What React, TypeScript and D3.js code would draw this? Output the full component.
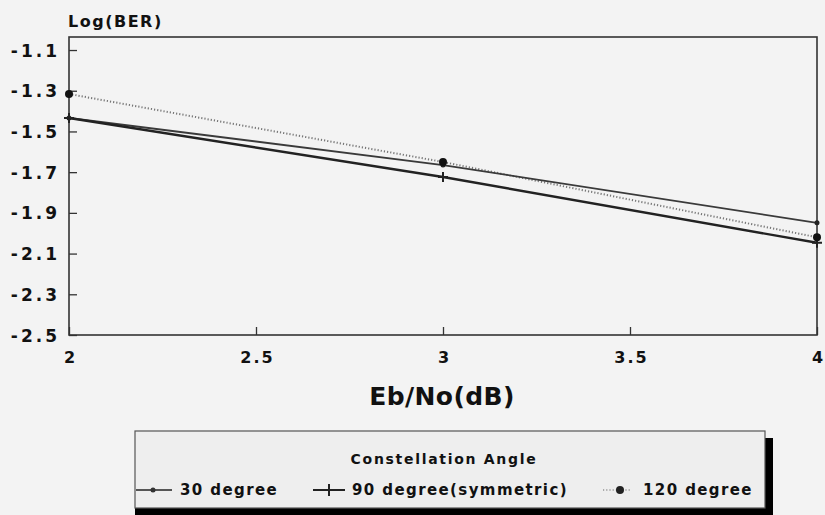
import React, { useEffect, useRef } from "react";
import * as d3 from "d3";

const ebno = [2, 3, 4];
const deg30 = [-1.434, -1.665, -1.949];
const deg90 = [-1.434, -1.724, -2.047];
const deg120 = [-1.316, -1.65, -2.02];
const yTicks = [-1.1, -1.3, -1.5, -1.7, -1.9, -2.1, -2.3, -2.5];
const xTicks = [2, 2.5, 3, 3.5, 4];
const seriesNames = ["30 degree", "90 degree(symmetric)", "120 degree"];

const W = 825;
const H = 515;
const FONT = "'DejaVu Sans', Verdana, sans-serif";

export default function App() {
  const ref = useRef<SVGSVGElement>(null);

  useEffect(() => {
    const svg = d3.select(ref.current);
    svg.selectAll("*").remove();

    const left = 69, right = 817, top = 37, bottom = 335;
    const x = d3.scaleLinear().domain([2, 4]).range([left, right]);
    const y = d3.scaleLinear().domain([-2.5, -1.036]).range([bottom, top]);

    svg.append("rect").attr("width", W).attr("height", H).attr("fill", "#f3f3f3");

    // axes, ticks pointing into the plot
    const gy = svg.append("g").attr("transform", `translate(${left},0)`)
      .call(d3.axisRight(y).tickValues(yTicks).tickSize(8).tickFormat(() => ""));
    gy.select(".domain").remove();
    gy.selectAll("line").attr("stroke", "#333").attr("stroke-width", 1.3);
    gy.selectAll(".tick").append("text")
      .attr("x", -9).attr("dy", "0.36em")
      .attr("text-anchor", "end")
      .attr("fill", "#111")
      .attr("font-family", FONT).attr("font-weight", "bold")
      .attr("font-size", 17).attr("letter-spacing", 3)
      .text((d: any) => d3.format(".1f")(d).replace("−", "-"));

    const gx = svg.append("g").attr("transform", `translate(0,${bottom})`)
      .call(d3.axisTop(x).tickValues(xTicks).tickSize(8).tickFormat(() => ""));
    gx.select(".domain").remove();
    gx.selectAll("line").attr("stroke", "#333").attr("stroke-width", 1.3);
    gx.selectAll(".tick").append("text")
      .attr("y", 28).attr("x", 1).attr("text-anchor", "middle")
      .attr("fill", "#111")
      .attr("font-family", FONT).attr("font-weight", "bold")
      .attr("font-size", 16).attr("letter-spacing", 2)
      .text((d: any) => String(d));

    svg.append("rect")
      .attr("x", left).attr("y", top)
      .attr("width", right - left).attr("height", bottom - top)
      .attr("fill", "none").attr("stroke", "#333").attr("stroke-width", 1.6);

    const line = d3.line<number>().x((_, i) => x(ebno[i])).y((d) => y(d));

    // 120 degree dotted
    svg.append("path").datum(deg120).attr("d", line)
      .attr("fill", "none").attr("stroke", "#777").attr("stroke-width", 2)
      .attr("stroke-dasharray", "1.2,2");
    // 30 degree
    svg.append("path").datum(deg30).attr("d", line)
      .attr("fill", "none").attr("stroke", "#3a3a3a").attr("stroke-width", 1.8);
    // 90 degree
    svg.append("path").datum(deg90).attr("d", line)
      .attr("fill", "none").attr("stroke", "#222").attr("stroke-width", 2.4);

    // markers
    svg.selectAll(".m30").data(deg30).join("circle")
      .attr("cx", (_, i) => x(ebno[i])).attr("cy", (d) => y(d))
      .attr("r", 2.5).attr("fill", "#222");
    svg.selectAll(".m90").data(deg90).join("path")
      .attr("d", (d, i) => `M${x(ebno[i])},${y(d) - 5}V${y(d) + 5}M${x(ebno[i]) - 5},${y(d)}H${x(ebno[i]) + 5}`)
      .attr("stroke", "#222").attr("stroke-width", 2);
    svg.selectAll(".m120").data(deg120).join("circle")
      .attr("cx", (_, i) => x(ebno[i])).attr("cy", (d) => y(d))
      .attr("r", 4).attr("fill", "#111");

    // titles
    svg.append("text").attr("x", 68).attr("y", 27)
      .attr("font-family", FONT).attr("font-weight", "bold")
      .attr("font-size", 16).attr("fill", "#111").attr("letter-spacing", 1.5)
      .text("Log(BER)");
    svg.append("text").attr("x", 442).attr("y", 405).attr("text-anchor", "middle")
      .attr("font-family", FONT).attr("font-weight", "bold")
      .attr("font-size", 25).attr("fill", "#111").attr("letter-spacing", 0.4)
      .text("Eb/No(dB)");

    // legend
    const lg = svg.append("g");
    lg.append("rect").attr("x", 765).attr("y", 438).attr("width", 8).attr("height", 77).attr("fill", "#000");
    lg.append("rect").attr("x", 135).attr("y", 508).attr("width", 638).attr("height", 7).attr("fill", "#000");
    lg.append("rect").attr("x", 135).attr("y", 431).attr("width", 630).attr("height", 77)
      .attr("fill", "#eeeeee").attr("stroke", "#555").attr("stroke-width", 1.2);
    lg.append("text").attr("x", 444).attr("y", 464).attr("text-anchor", "middle")
      .attr("font-family", FONT).attr("font-weight", "bold")
      .attr("font-size", 14).attr("fill", "#111").attr("letter-spacing", 1.7)
      .text("Constellation Angle");

    const ly = 490;
    const items = [
      { x0: 136, x1: 172, tx: 180 },
      { x0: 313, x1: 345, tx: 352 },
      { x0: 603, x1: 630, tx: 643 },
    ];
    // 30 degree sample
    lg.append("line").attr("x1", items[0].x0).attr("x2", items[0].x1).attr("y1", ly).attr("y2", ly)
      .attr("stroke", "#555").attr("stroke-width", 2);
    lg.append("circle").attr("cx", 153).attr("cy", ly).attr("r", 2.5).attr("fill", "#333");
    // 90 degree sample
    lg.append("line").attr("x1", items[1].x0).attr("x2", items[1].x1).attr("y1", ly).attr("y2", ly)
      .attr("stroke", "#222").attr("stroke-width", 2);
    lg.append("path").attr("d", `M329,${ly - 6}V${ly + 6}`).attr("stroke", "#222").attr("stroke-width", 2);
    // 120 degree sample
    lg.append("line").attr("x1", items[2].x0).attr("x2", items[2].x1).attr("y1", ly).attr("y2", ly)
      .attr("stroke", "#aaa").attr("stroke-width", 2).attr("stroke-dasharray", "1.2,2");
    lg.append("circle").attr("cx", 620).attr("cy", ly).attr("r", 4).attr("fill", "#222");

    lg.selectAll(".lt").data(seriesNames).join("text")
      .attr("x", (_, i) => items[i].tx).attr("y", ly + 5)
      .attr("font-family", FONT).attr("font-weight", "bold")
      .attr("font-size", 15).attr("fill", "#111").attr("letter-spacing", 1.4)
      .text((d) => d);
  }, []);

  return (
    <svg
      ref={ref}
      width={W}
      height={H}
      style={{ position: "absolute", left: 0, top: 0, display: "block" }}
    />
  );
}
